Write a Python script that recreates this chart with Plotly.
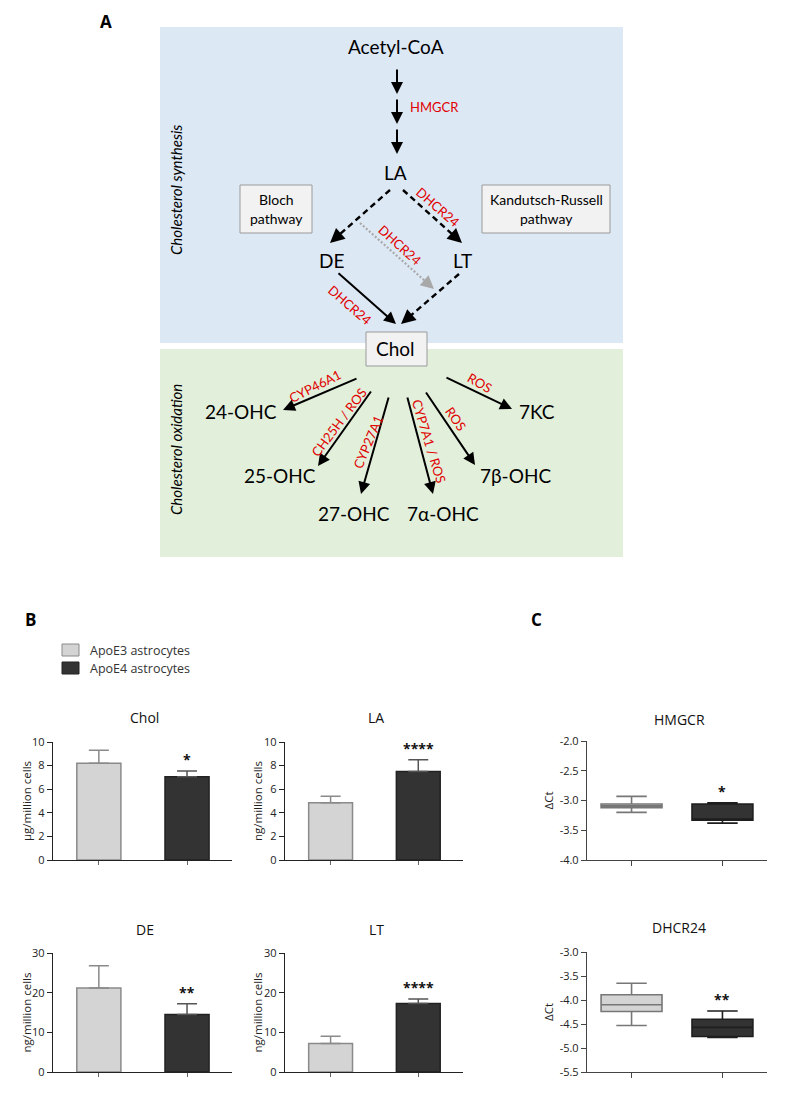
import math
import plotly.graph_objects as go

W, H = 788, 1093


def fx(x):
    return x / W


def fy(y):
    return 1 - y / H


# ---------------- data ----------------
groups = ["ApoE3 astrocytes", "ApoE4 astrocytes"]
group_x = [0, 1]
group_fill = ["#d4d4d4", "#333333"]
group_line = ["#8a8a8a", "#222222"]

bar_titles = ["Chol", "LA", "DE", "LT"]
bar_units = ["µg/million cells", "ng/million cells", "ng/million cells", "ng/million cells"]
chol_mean = [8.2, 7.05]
chol_sd = [1.1, 0.5]
la_mean = [4.85, 7.5]
la_sd = [0.55, 1.0]
de_mean = [21.2, 14.5]
de_sd = [5.6, 2.7]
lt_mean = [7.2, 17.3]
lt_sd = [1.8, 1.1]
bar_stars = ["*", "****", "**", "****"]
ticks_small = [0, 2, 4, 6, 8, 10]
ticks_large = [0, 10, 20, 30]

box_titles = ["HMGCR", "DHCR24"]
hmgcr_low = [-3.20, -3.38]
hmgcr_q1 = [-3.12, -3.33]
hmgcr_med = [-3.09, -3.31]
hmgcr_q3 = [-3.06, -3.06]
hmgcr_high = [-2.93, -3.04]
dhcr_low = [-4.53, -4.78]
dhcr_q1 = [-4.24, -4.76]
dhcr_med = [-4.10, -4.57]
dhcr_q3 = [-3.89, -4.40]
dhcr_high = [-3.65, -4.23]
box_stars = ["*", "**"]
hmgcr_ticks = [-4.0, -3.5, -3.0, -2.5, -2.0]
dhcr_ticks = [-5.5, -5.0, -4.5, -4.0, -3.5, -3.0]

# diagram content
top_nodes = ["Acetyl-CoA", "LA", "DE", "LT"]
ox_nodes = ["24-OHC", "25-OHC", "27-OHC", "7α-OHC", "7β-OHC", "7KC"]
ox_enzymes = ["CYP46A1", "CH25H / ROS", "CYP27A1", "CYP7A1 / ROS", "ROS", "ROS"]

# ---------------- layout geometry (pixels) ----------------
top_node_pos = [(396, 47), (396, 173), (331, 260), (463, 260)]
ox_node_pos = [(241, 412), (280, 475), (354, 513), (443, 513), (515, 475), (537, 412)]
ox_arrow_pos = [((358, 378), (283, 410)), ((372, 390), (318, 466)), ((389, 396), (361, 494)),
                ((407, 396), (433, 494)), ((425, 391), (475, 465)), ((445, 377), (512, 409))]
ox_label_pos = [(315, 386, -27), (339, 422, -53), (368, 442, -67), (429, 441, 73), (456, 419, 55), (480, 383, 30)]

RED = "#e00000"
DFONT = "Lato"
CFONT = "Open Sans"

shapes = []
annotations = []


def arrow(p0, p1, color="#000000", width=2, dash=None):
    x0, y0 = p0
    x1, y1 = p1
    dx, dy = x1 - x0, y1 - y0
    L = math.hypot(dx, dy)
    ux, uy = dx / L, dy / L
    if dash is None:
        annotations.append(dict(x=fx(x1), y=fy(y1), xref="paper", yref="paper",
                                ax=x0 - x1, ay=y0 - y1, axref="pixel", ayref="pixel",
                                showarrow=True, arrowhead=2, arrowsize=1.2, arrowwidth=width,
                                arrowcolor=color, text="", standoff=0))
    else:
        hl = 8
        shapes.append(dict(type="line", xref="paper", yref="paper",
                           x0=fx(x0), y0=fy(y0), x1=fx(x1 - ux * hl), y1=fy(y1 - uy * hl),
                           line=dict(color=color, width=width, dash=dash)))
        annotations.append(dict(x=fx(x1), y=fy(y1), xref="paper", yref="paper",
                                ax=-ux * (hl + 3), ay=-uy * (hl + 3), axref="pixel", ayref="pixel",
                                showarrow=True, arrowhead=2, arrowsize=1.2, arrowwidth=width,
                                arrowcolor=color, text="", standoff=0))


def text(x, y, s, size, color="#000000", angle=0, family=DFONT, xanchor="center", yanchor="middle"):
    annotations.append(dict(x=fx(x), y=fy(y), xref="paper", yref="paper", text=s, showarrow=False,
                            textangle=angle, xanchor=xanchor, yanchor=yanchor,
                            font=dict(family=family, size=size, color=color)))


def rect(x0, y0, x1, y1, fill, line=None, lw=1, layer="below"):
    shapes.append(dict(type="rect", xref="paper", yref="paper", x0=fx(x0), y0=fy(y0), x1=fx(x1), y1=fy(y1),
                       fillcolor=fill, line=dict(color=line if line else fill, width=lw if line else 0),
                       layer=layer))


# ---------------- Panel A ----------------
rect(160, 27, 623, 343, "#dde8f5")
rect(160, 349, 623, 557, "#e2efda")
text(106, 22, "<b>A</b>", 17, family="Open Sans")
text(176, 190, "<i>Cholesterol synthesis</i>", 15, angle=-90)
text(176, 450, "<i>Cholesterol oxidation</i>", 15, angle=-90)

for name, (x, y) in zip(top_nodes, top_node_pos):
    text(x, y, name, 19)

arrow((397, 68), (397, 94))
arrow((397, 98), (397, 124))
arrow((397, 128), (397, 154))
text(408, 107, "HMGCR", 13, RED, xanchor="left")

rect(240, 185, 312, 233, "#f2f2f2", "#9a9a9a", 1, layer="above")
text(276, 199, "Bloch", 14)
text(276, 218, "pathway", 14)
rect(482, 185, 610, 233, "#f2f2f2", "#9a9a9a", 1, layer="above")
text(546, 199, "Kandutsch-Russell", 14)
text(546, 218, "pathway", 14)

arrow((390, 190), (330, 243), dash="6px,4px", width=2.4)
arrow((403, 190), (462, 243), dash="6px,4px", width=2.4)
arrow((459, 274), (401, 324), dash="6px,4px", width=2.4)
arrow((360, 223), (434, 289), color="#a8a8a8", dash="2px,2px", width=2.2)
arrow((337, 272), (396, 324))
text(438, 207, "DHCR24", 13, RED, angle=41)
text(400, 245, "DHCR24", 13, RED, angle=42)
text(350, 305, "DHCR24", 13, RED, angle=41)

rect(366, 332, 427, 366, "#f2f2f2", "#9a9a9a", 1, layer="above")
text(396, 349, "Chol", 19)

for name, pos, arr, lab, enz in zip(ox_nodes, ox_node_pos, ox_arrow_pos, ox_label_pos, ox_enzymes):
    text(pos[0], pos[1], name, 19)
    arrow(arr[0], arr[1])
    text(lab[0], lab[1], enz, 13, RED, angle=lab[2])

# ---------------- Panel B ----------------
text(30, 619, "<b>B</b>", 17, family="Open Sans")
leg_rows = [650, 668]
for g, yy, fc, lc in zip(groups, leg_rows, group_fill, group_line):
    rect(62, yy - 6, 79, yy + 6, fc, lc, 1, layer="above")
    text(88, yy, g, 12.5, "#333333", family=CFONT, xanchor="left")

fig = go.Figure()

bar_means = [chol_mean, la_mean, de_mean, lt_mean]
bar_sds = [chol_sd, la_sd, de_sd, lt_sd]
bar_dom = [((53, 232), (742, 860)), ((285, 463), (742, 860)),
           ((53, 232), (953, 1072)), ((285, 463), (953, 1072))]
bar_ticks = [ticks_small, ticks_small, ticks_large, ticks_large]
bar_title_y = [717, 717, 929, 929]

AX = "#222222"
layout_axes = {}
ai = 0
for i in range(4):
    ai += 1
    xa, ya = f"x{ai}", f"y{ai}"
    (xd0, xd1), (yd0, yd1) = bar_dom[i]
    for j in range(2):
        fig.add_trace(go.Bar(
            x=[group_x[j]], y=[bar_means[i][j]], width=0.5, xaxis=xa, yaxis=ya,
            marker=dict(color=group_fill[j], line=dict(color=group_line[j], width=1.5)),
            error_y=dict(type="data", array=[bar_sds[i][j]], arrayminus=[0], symmetric=False,
                         color=group_line[j] if j == 0 else "#555555", thickness=1.5, width=10),
            name=groups[j], showlegend=False))
    tv = bar_ticks[i]
    layout_axes[f"xaxis{ai}"] = dict(domain=[fx(xd0), fx(xd1)], anchor=ya, range=[-0.52, 1.51],
                                     automargin=False,
                                     showgrid=False, zeroline=False, showline=True, linecolor=AX,
                                     linewidth=1.3, ticks="outside", ticklen=4, tickcolor="#666",
                                     tickvals=group_x, showticklabels=False)
    layout_axes[f"yaxis{ai}"] = dict(domain=[fy(yd1), fy(yd0)], anchor=xa, range=[tv[0], tv[-1]],
                                     automargin=False,
                                     showgrid=False, zeroline=False, showline=True, linecolor=AX,
                                     linewidth=1.3, ticks="outside", ticklen=5, tickcolor=AX,
                                     tickvals=tv, ticktext=[str(t) for t in tv],
                                     tickfont=dict(family=CFONT, size=11, color="#222"))
    text((xd0 + xd1) / 2 + 2, bar_title_y[i], bar_titles[i], 14, "#111", family=CFONT)
    text(26 if xd0 < 100 else 257, (yd0 + yd1) / 2, bar_units[i], 11.5, "#222", angle=-90, family=CFONT)
    annotations.append(dict(x=1, y=bar_means[i][1] + bar_sds[i][1], xref=xa, yref=ya,
                            text=f"<b>{bar_stars[i]}</b>", showarrow=False, yanchor="bottom", yshift=0,
                            font=dict(family=CFONT, size=14, color="#111")))

# ---------------- Panel C ----------------
text(536, 619, "<b>C</b>", 17, family="Open Sans")
box_stats = [(hmgcr_low, hmgcr_q1, hmgcr_med, hmgcr_q3, hmgcr_high),
             (dhcr_low, dhcr_q1, dhcr_med, dhcr_q3, dhcr_high)]
box_dom = [((587, 767), (741, 860)), ((587, 767), (952, 1072))]
box_ticks = [hmgcr_ticks, dhcr_ticks]
box_title_y = [719, 927]
for i in range(2):
    ai += 1
    xa, ya = f"x{ai}", f"y{ai}"
    (xd0, xd1), (yd0, yd1) = box_dom[i]
    lo, q1, md, q3, hi = box_stats[i]
    for j in range(2):
        fig.add_trace(go.Box(
            x=[group_x[j]], lowerfence=[lo[j]], q1=[q1[j]], median=[md[j]], q3=[q3[j]], upperfence=[hi[j]],
            xaxis=xa, yaxis=ya, width=0.67, whiskerwidth=0.5, boxpoints=False,
            fillcolor=group_fill[j], line=dict(color="#777777" if j == 0 else "#1e1e1e", width=1.6),
            name=groups[j], showlegend=False))
    tv = box_ticks[i]
    layout_axes[f"xaxis{ai}"] = dict(domain=[fx(xd0), fx(xd1)], anchor=ya, range=[-0.49, 1.49],
                                     automargin=False,
                                     showgrid=False, zeroline=False, showline=True, linecolor="#444",
                                     linewidth=1.3, ticks="outside", ticklen=5, tickcolor="#444",
                                     tickvals=group_x, showticklabels=False)
    layout_axes[f"yaxis{ai}"] = dict(domain=[fy(yd1), fy(yd0)], anchor=xa, range=[tv[0], tv[-1]],
                                     automargin=False,
                                     showgrid=False, zeroline=False, showline=True, linecolor="#444",
                                     linewidth=1.3, ticks="outside", ticklen=5, tickcolor="#444",
                                     tickvals=tv, ticktext=[f"{t:.1f}" for t in tv],
                                     tickfont=dict(family=CFONT, size=11, color="#222"))
    text((xd0 + xd1) / 2 + 2, box_title_y[i], box_titles[i], 14, "#111", family=CFONT)
    text(548, (yd0 + yd1) / 2, "ΔCt", 11.5, "#222", angle=-90, family=CFONT)
    annotations.append(dict(x=1, y=hi[1], xref=xa, yref=ya,
                            text=f"<b>{box_stars[i]}</b>", showarrow=False, yanchor="bottom", yshift=0,
                            font=dict(family=CFONT, size=14, color="#111")))

fig.update_layout(
    width=W, height=H, margin=dict(l=0, r=0, t=0, b=0, pad=0, autoexpand=False),
    paper_bgcolor="white", plot_bgcolor="rgba(0,0,0,0)",
    showlegend=False, shapes=shapes, annotations=annotations,
    font=dict(family=CFONT),
    **layout_axes,
)

fig.write_html("out.html", config={"displayModeBar": False},
               post_script="document.body.style.margin='0px';document.body.style.overflow='hidden';")
